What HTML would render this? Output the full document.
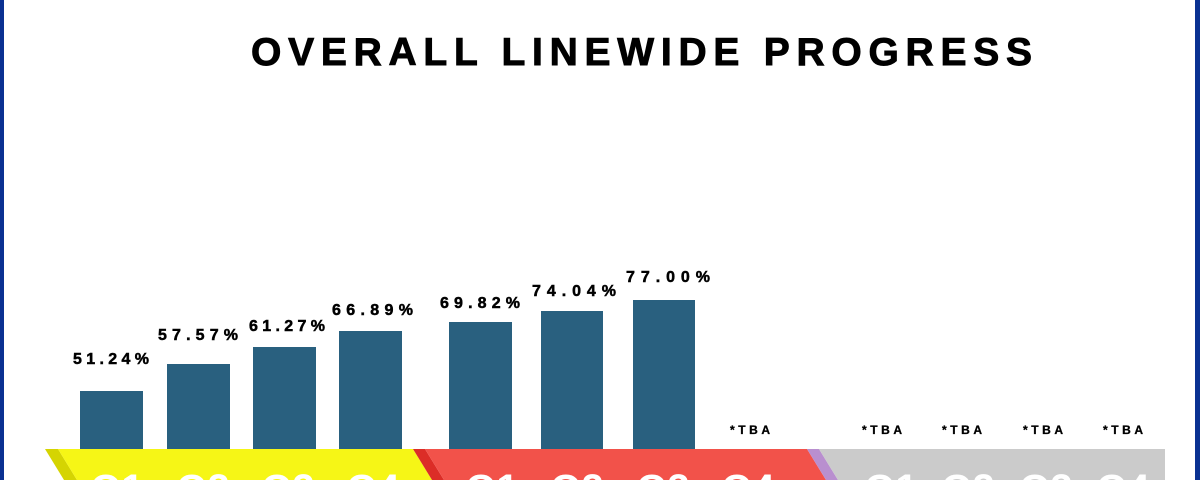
<!DOCTYPE html>
<html>
<head>
<meta charset="utf-8">
<style>
  html, body { margin:0; padding:0; background:#ffffff; overflow:hidden; }
  body { width:1200px; height:480px; overflow:hidden; position:relative; }
  svg { display:block; overflow:hidden; }
  text { font-family: "Liberation Sans", "DejaVu Sans", sans-serif; font-weight:bold; }
</style>
</head>
<body>
<svg width="1200" height="480" viewBox="0 0 1200 480" xmlns="http://www.w3.org/2000/svg">
  <defs>
    <clipPath id="frame"><rect x="0" y="0" width="1200" height="480"/></clipPath>
  </defs>
  <g clip-path="url(#frame)">
  <rect x="0" y="0" width="1200" height="480" fill="#ffffff"/>

  <!-- Title -->
  <text x="251" y="65" font-size="39" fill="#000" stroke="#000" stroke-width="0.9" textLength="781" lengthAdjust="spacing">OVERALL LINEWIDE PROGRESS</text>

  <!-- Bars -->
  <g fill="#29607f">
    <rect x="80" y="391" width="63" height="58"/>
    <rect x="167" y="364" width="63" height="85"/>
    <rect x="253" y="347" width="63" height="102"/>
    <rect x="339" y="331" width="63" height="118"/>
    <rect x="449" y="322" width="63" height="127"/>
    <rect x="541" y="311" width="62" height="138"/>
    <rect x="633" y="300" width="62" height="149"/>
  </g>

  <!-- Value labels -->
  <g font-size="16" fill="#000" stroke="#000" stroke-width="0.5">
    <text x="73" y="364" textLength="76" lengthAdjust="spacing">51.24%</text>
    <text x="158" y="340" textLength="80" lengthAdjust="spacing">57.57%</text>
    <text x="249" y="331" textLength="76" lengthAdjust="spacing">61.27%</text>
    <text x="332" y="315" textLength="81" lengthAdjust="spacing">66.89%</text>
    <text x="440" y="308" textLength="80" lengthAdjust="spacing">69.82%</text>
    <text x="532" y="296" textLength="84" lengthAdjust="spacing">74.04%</text>
    <text x="626" y="282" textLength="84" lengthAdjust="spacing">77.00%</text>
  </g>

  <!-- TBA labels -->
  <g font-size="12" fill="#000" stroke="#000" stroke-width="0.3">
    <text x="730" y="434" textLength="40" lengthAdjust="spacing">*TBA</text>
    <text x="862" y="434" textLength="40" lengthAdjust="spacing">*TBA</text>
    <text x="942" y="434" textLength="40" lengthAdjust="spacing">*TBA</text>
    <text x="1023" y="434" textLength="40" lengthAdjust="spacing">*TBA</text>
    <text x="1103" y="434" textLength="40" lengthAdjust="spacing">*TBA</text>
  </g>

  <!-- Banner -->
  <polygon points="45,449 58,449 77,480 64,480" fill="#d5d402"/>
  <polygon points="58,449 413,449 432,480 77,480" fill="#f6f616"/>
  <polygon points="413,449 425,449 444,480 432,480" fill="#dc2d27"/>
  <polygon points="425,449 807,449 826,480 444,480" fill="#f2524a"/>
  <polygon points="807,449 819,449 838,480 826,480" fill="#b98fcf"/>
  <polygon points="819,449 1165,449 1165,480 838,480" fill="#cbcbcb"/>

  <!-- Banner big text (mostly cut off) -->
  <g font-size="40" fill="#ffffff" text-anchor="middle">
    <text x="117" y="502">Q1</text>
    <text x="203" y="502">Q2</text>
    <text x="288" y="502">Q3</text>
    <text x="373" y="502">Q4</text>
    <text x="492" y="502">Q1</text>
    <text x="577" y="502">Q2</text>
    <text x="663" y="502">Q3</text>
    <text x="748" y="502">Q4</text>
    <text x="891" y="502">Q1</text>
    <text x="968" y="502">Q2</text>
    <text x="1046" y="502">Q3</text>
    <text x="1123" y="502">Q4</text>
  </g>

  <!-- Blue side borders -->
  <rect x="0" y="0" width="4" height="480" fill="#0a3192"/>
  <rect x="1195" y="0" width="5" height="480" fill="#0a3192"/>
  </g>
</svg>
</body>
</html>
